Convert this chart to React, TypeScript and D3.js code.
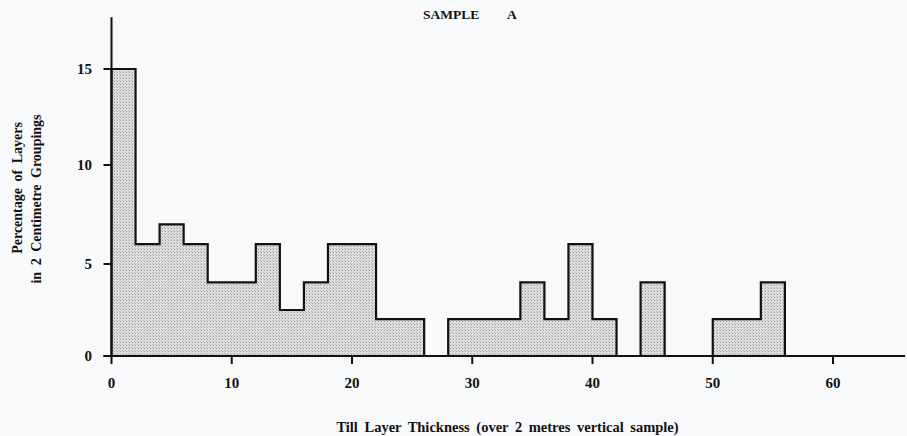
import React from "react";
import * as d3 from "d3";

const binStarts = [0,2,4,6,8,10,12,14,16,18,20,22,24,26,28,30,32,34,36,38,40,42,44,46,48,50,52,54];
const binValues = [15,6,7,6,4,4,6,2.5,4,6,6,2,2,0,2,2,2,4,2,6,2,0,4,0,0,2,2,4];
const binWidth = 2;
const xTicks = [0,10,20,30,40,50,60];
const yTicks = [0,5,10,15];
const titleWords = ["SAMPLE", "A"];
const xLabel = "Till Layer Thickness (over 2 metres vertical sample)";
const yLabelLines = ["Percentage of Layers", "in 2 Centimetre Groupings"];

const W = 907, H = 436;
const FONT = "'Liberation Serif', 'DejaVu Serif', serif";

export default function App() {
  const x = d3.scaleLinear().domain([0, 60]).range([111.5, 833]);
  const y = d3.scaleLinear().domain([0, 5, 10, 15]).range([356, 264, 165, 69]);

  // contiguous groups of non-zero bins
  const groups: { s: number; v: number }[][] = [];
  let cur: { s: number; v: number }[] = [];
  binStarts.forEach((s, i) => {
    const v = binValues[i];
    if (v > 0) cur.push({ s, v });
    else if (cur.length) { groups.push(cur); cur = []; }
  });
  if (cur.length) groups.push(cur);

  const line = d3.line<[number, number]>();
  const paths = groups.map((g) => {
    const pts: [number, number][] = [];
    pts.push([x(g[0].s), y(0)]);
    g.forEach((b) => {
      pts.push([x(b.s), y(b.v)]);
      pts.push([x(b.s + binWidth), y(b.v)]);
    });
    pts.push([x(g[g.length - 1].s + binWidth), y(0)]);
    return line(pts) as string;
  });

  const xAxisEnd = x(66);
  const yAxisTop = y(17.7);
  const tick = 8;

  return (
    <svg width={W} height={H} style={{ position: "absolute", left: 0, top: 0, background: "#f8f9fa" }}>
      <defs>
        <pattern id="stip" width="3" height="3" patternUnits="userSpaceOnUse">
          <rect width="3" height="3" fill="#dedede" />
          <rect x="0" y="0" width="1" height="1" fill="#9a9a9a" />
          <rect x="2" y="2" width="1" height="1" fill="#b8b8b8" />
        </pattern>
      </defs>
      <text fontFamily={FONT} fontWeight="bold" fontSize={13.5} fill="#111" x={423} y={19}>{titleWords[0]}</text>
      <text fontFamily={FONT} fontWeight="bold" fontSize={13.5} fill="#111" x={507} y={19}>{titleWords[1]}</text>

      {paths.map((d, i) => (
        <path key={"f" + i} d={d} fill="url(#stip)" stroke="none" />
      ))}
      {paths.map((d, i) => (
        <path key={"s" + i} d={d} fill="none" stroke="#111" strokeWidth={2.2} strokeLinejoin="miter" />
      ))}

      {/* axes */}
      <line x1={x(0)} x2={x(0)} y1={yAxisTop} y2={y(0)} stroke="#111" strokeWidth={2} />
      <line x1={x(0) - tick} x2={xAxisEnd} y1={y(0)} y2={y(0)} stroke="#111" strokeWidth={2} />
      {yTicks.map((t) => (
        <g key={"yt" + t}>
          <line x1={x(0) - tick} x2={x(0)} y1={y(t)} y2={y(t)} stroke="#111" strokeWidth={2} />
          <text x={92} y={y(t)} dy="0.36em" textAnchor="end" fontFamily={FONT} fontWeight="bold" fontSize={15} fill="#111">{t}</text>
        </g>
      ))}
      {xTicks.map((t) => (
        <g key={"xt" + t}>
          <line x1={x(t)} x2={x(t)} y1={y(0)} y2={y(0) + tick} stroke="#111" strokeWidth={2} />
          <text x={x(t)} y={388} textAnchor="middle" fontFamily={FONT} fontWeight="bold" fontSize={15} fill="#111">{t}</text>
        </g>
      ))}

      <text x={507.5} y={432} textAnchor="middle" fontFamily={FONT} fontWeight="bold" fontSize={14.5} fill="#111" wordSpacing={3}>{xLabel}</text>
      <text transform="translate(22,188) rotate(-90)" textAnchor="middle" fontFamily={FONT} fontWeight="bold" fontSize={14} fill="#111" wordSpacing={3}>{yLabelLines[0]}</text>
      <text transform="translate(41,199) rotate(-90)" textAnchor="middle" fontFamily={FONT} fontWeight="bold" fontSize={14} fill="#111" wordSpacing={3}>{yLabelLines[1]}</text>
    </svg>
  );
}
